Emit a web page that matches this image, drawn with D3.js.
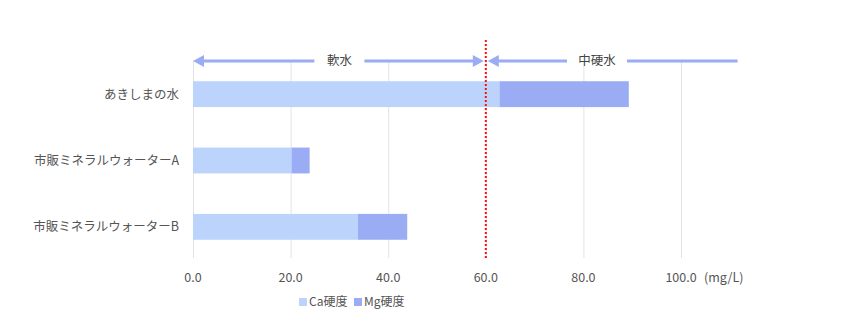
<!DOCTYPE html>
<html>
<head>
<meta charset="utf-8">
<script src="https://cdn.jsdelivr.net/npm/d3@7"></script>
<style>
  body { margin: 0; background: #fff; }
  svg { display: block; font-family: "Noto Sans CJK JP", "DejaVu Sans", sans-serif; }
  .grid line { stroke: #e3e3e3; stroke-width: 1px; }
  .tick-label { font-size: 12.5px; fill: #555; }
  .cat-label { font-size: 12.5px; fill: #555; }
  .legend-label { font-size: 12px; fill: #555; }
  .zone text { font-size: 12.5px; fill: #444; }
  .zone line { stroke: #9aacf4; stroke-width: 3px; }
  .zone path { fill: #9aacf4; }
</style>
</head>
<body>
<svg id="chart" width="866" height="331"></svg>
<script>
// data
var categories = ["あきしまの水", "市販ミネラルウォーターA", "市販ミネラルウォーターB"];
var caValues = [62.8, 20.2, 33.8];
var mgValues = [26.5, 3.7, 10.1];
var seriesNames = ["Ca硬度", "Mg硬度"];
var xTicks = [0, 20, 40, 60, 80, 100];
var unitLabel = "(mg/L)";
var threshold = 60;
var zoneNames = ["軟水", "中硬水"];
var zoneEnd = 111.6;

var colors = ["#bcd4fb", "#9aacf4"];

var svg = d3.select("#chart");

var x = d3.scaleLinear().domain([0, 100]).range([193, 681]);
var y = d3.scaleBand().domain(categories).range([61, 260])
    .paddingInner(0.61).paddingOuter(0.305);

var plotTop = 61, plotBottom = 258;

// grid
svg.append("g").attr("class", "grid")
  .selectAll("line").data(xTicks).enter().append("line")
    .attr("x1", function(d) { return x(d) + 0.5; })
    .attr("x2", function(d) { return x(d) + 0.5; })
    .attr("y1", plotTop)
    .attr("y2", plotBottom);

// stacked bars
var stackData = categories.map(function(c, i) { return {cat: c, ca: caValues[i], mg: mgValues[i]}; });
var stack = d3.stack().keys(["ca", "mg"])(stackData);

svg.append("g").selectAll("g").data(stack).enter().append("g")
    .attr("fill", function(d, i) { return colors[i]; })
  .selectAll("rect").data(function(d) { return d; }).enter().append("rect")
    .attr("x", function(d) { return x(d[0]); })
    .attr("width", function(d) { return x(d[1]) - x(d[0]); })
    .attr("y", function(d) { return y(d.data.cat); })
    .attr("height", y.bandwidth());

// category labels
svg.append("g").selectAll("text").data(categories).enter().append("text")
    .attr("class", "cat-label")
    .attr("x", 179)
    .attr("y", function(d) { return y(d) + y.bandwidth() / 2; })
    .attr("dy", "0.35em")
    .attr("text-anchor", "end")
    .text(function(d) { return d; });

// tick labels
svg.append("g").selectAll("text").data(xTicks).enter().append("text")
    .attr("class", "tick-label")
    .attr("x", function(d) { return x(d); })
    .attr("y", 282)
    .attr("text-anchor", "middle")
    .text(function(d) { return d3.format(".1f")(d); });

svg.append("text").attr("class", "tick-label")
    .attr("x", x(100) + 23).attr("y", 282)
    .text(unitLabel);

// zone arrows
var zone = svg.append("g").attr("class", "zone");
var ay = 61;
var tx = x(threshold);

function arrowHead(tip, dir) {
  // dir: -1 points left, 1 points right
  var len = 11, half = 6;
  return "M" + tip + "," + ay + "L" + (tip - dir * len) + "," + (ay - half) + "L" + (tip - dir * len) + "," + (ay + half) + "Z";
}

// soft water
var softMid = (x(0) + tx) / 2;
zone.append("line").attr("x1", x(0) + 8).attr("x2", softMid - 25).attr("y1", ay).attr("y2", ay);
zone.append("line").attr("x1", softMid + 25).attr("x2", tx - 10).attr("y1", ay).attr("y2", ay);
zone.append("path").attr("d", arrowHead(x(0), -1));
zone.append("path").attr("d", arrowHead(tx - 2, 1));
zone.append("text").attr("x", softMid).attr("y", ay).attr("dy", "0.35em")
    .attr("text-anchor", "middle").text(zoneNames[0]);

// medium hard water
var midMid = 597;
zone.append("line").attr("x1", tx + 10).attr("x2", midMid - 30).attr("y1", ay).attr("y2", ay);
zone.append("line").attr("x1", midMid + 30).attr("x2", x(zoneEnd)).attr("y1", ay).attr("y2", ay);
zone.append("path").attr("d", arrowHead(tx + 2, -1));
zone.append("text").attr("x", midMid).attr("y", ay).attr("dy", "0.35em")
    .attr("text-anchor", "middle").text(zoneNames[1]);

// threshold line
svg.append("line")
    .attr("x1", tx).attr("x2", tx)
    .attr("y1", 40).attr("y2", plotBottom)
    .attr("stroke", "#ff1010")
    .attr("stroke-width", 2)
    .attr("stroke-dasharray", "2,2");

// legend
var legend = svg.append("g").selectAll("g").data(seriesNames).enter().append("g")
    .attr("transform", function(d, i) { return "translate(" + (299 + i * 55) + ",302)"; });
legend.append("rect")
    .attr("x", 0).attr("y", -4).attr("width", 8).attr("height", 8)
    .attr("fill", function(d, i) { return colors[i]; });
legend.append("text")
    .attr("class", "legend-label")
    .attr("x", 10).attr("dy", "0.35em")
    .text(function(d) { return d; });
</script>
</body>
</html>
